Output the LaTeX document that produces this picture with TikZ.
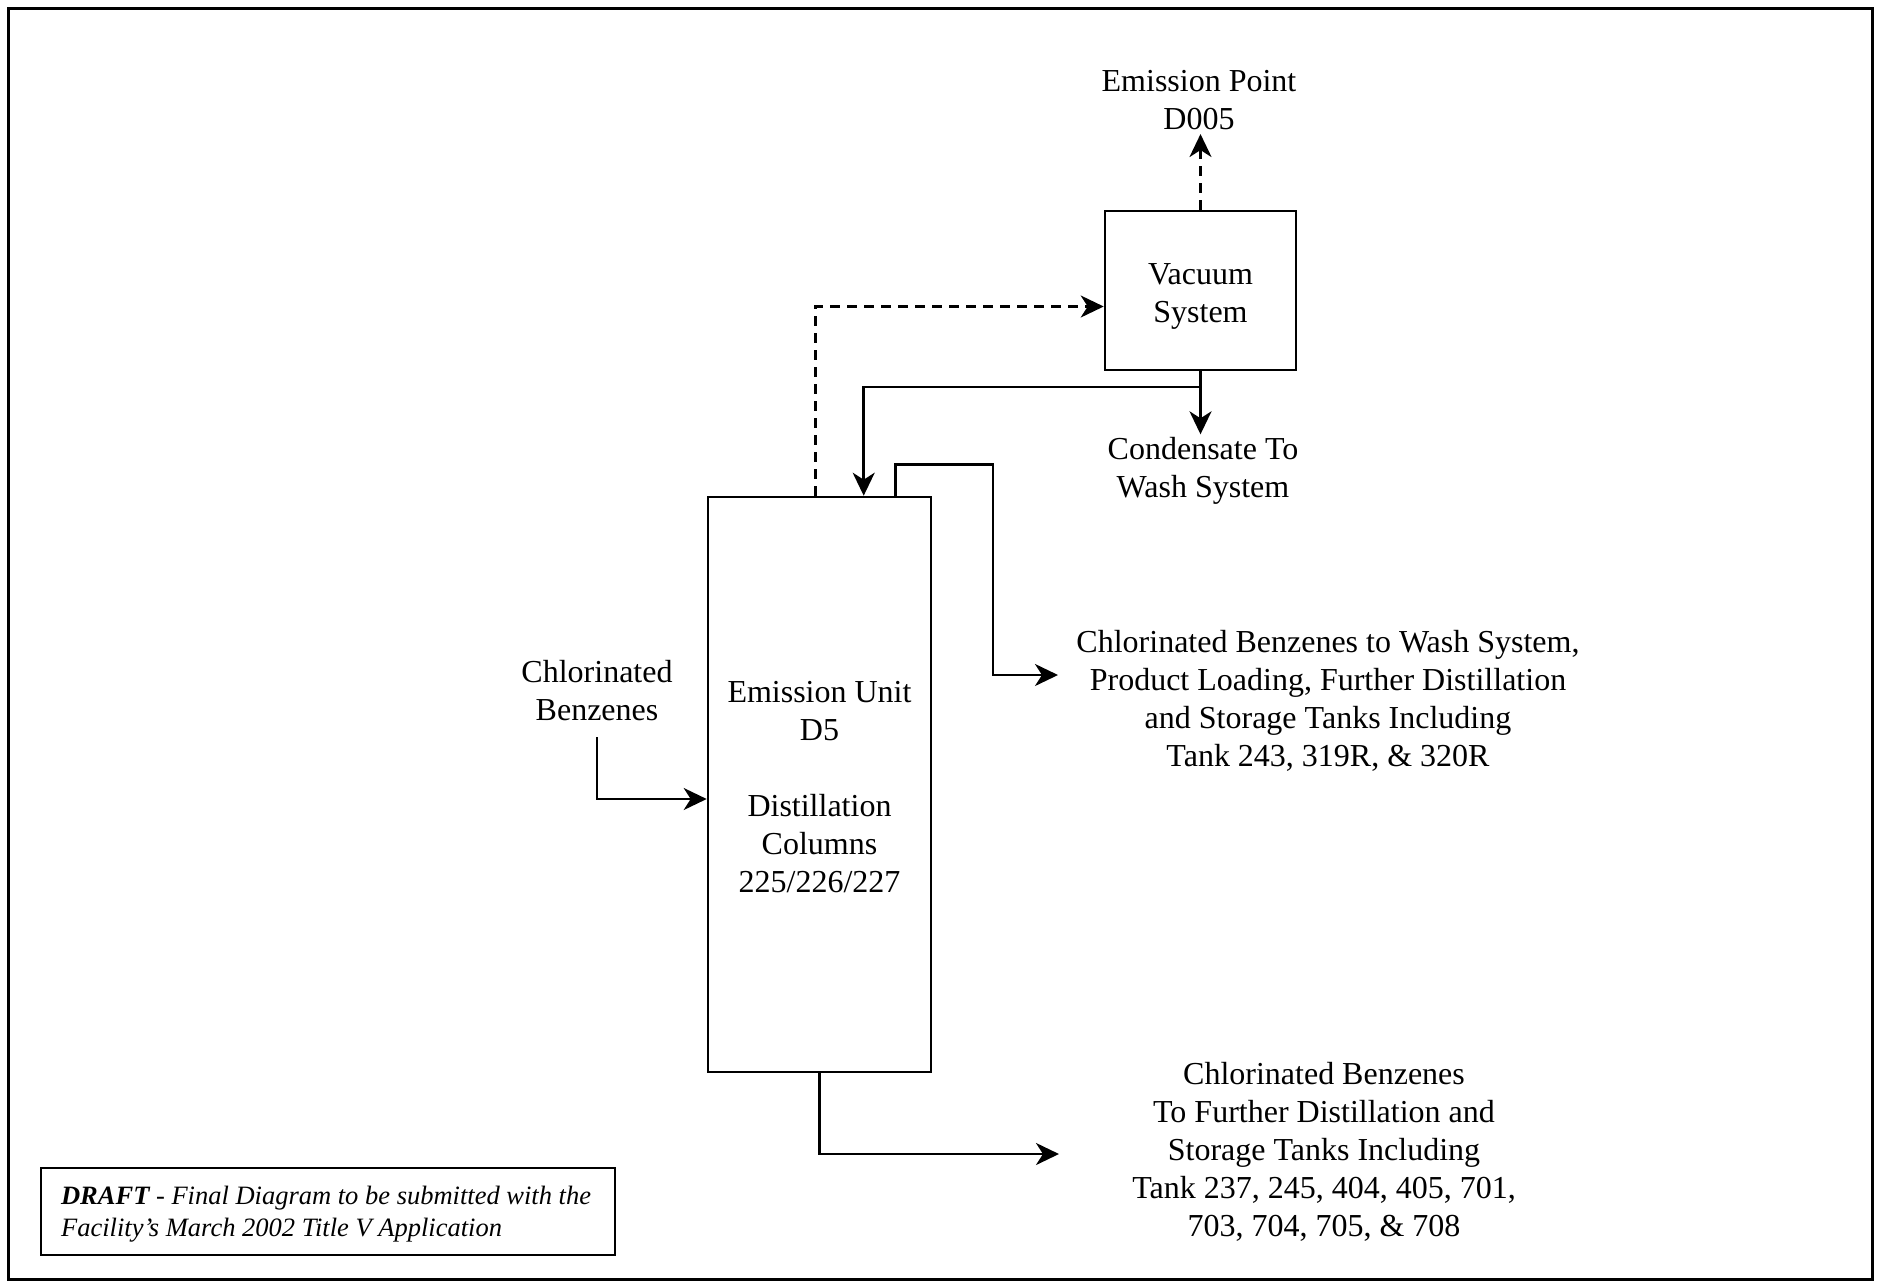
\documentclass[tikz,border=0pt]{standalone}
\usepackage{fontspec}
\setmainfont{Liberation Serif}
\usetikzlibrary{arrows.meta,calc}
\begin{document}
\begin{tikzpicture}[x=1pt,y=-1pt,
  line width=2.6pt,
  txt/.style={align=center,font=\fontsize{32}{38}\selectfont,inner sep=3pt},
  box/.style={draw,line width=2.6pt,inner sep=0pt,align=center,font=\fontsize{32}{38}\selectfont},
  flow/.style={line width=2.6pt,-{Stealth[length=23pt,width=22pt,inset=7pt]}},
  dflow/.style={flow,dash pattern=on 10pt off 7pt}]
\useasboundingbox (0,0) rectangle (1879,1286);
\draw[line width=3pt] (8,8) rectangle (1872,1279);
% main units
\node[box,minimum width=223pt,minimum height=575pt] (col) at (819.5,784.5) {};
\node[txt] (coltxt) at (819.5,787.5)
  {Emission Unit\\D5\\[38pt]Distillation\\Columns\\225/226/227};
\node[box,minimum width=191pt,minimum height=159pt] (vac) at (1200.5,290.5) {};
\node[txt] (vactxt) at (1200.5,296.5) {Vacuum\\System};
% labels
\node[txt] (ep) at (1199,100) {Emission Point\\D005};
\node[txt] (cond) at (1203,471) {Condensate To\\Wash System};
\node[txt] (inl) at (597,691) {Chlorinated\\Benzenes};
\node[txt] (out1) at (1328,701) {Chlorinated Benzenes to Wash System,\\Product Loading, Further Distillation\\and Storage Tanks Including\\Tank 243, 319R, \& 320R};
\node[txt] (out2) at (1324,1151.5) {Chlorinated Benzenes\\To Further Distillation and\\Storage Tanks Including\\Tank 237, 245, 404, 405, 701,\\703, 704, 705, \& 708};
% draft note
\node[draw,line width=2.4pt,minimum width=574pt,minimum height=87pt,inner sep=0pt] (draft) at (328,1211.5) {};
\node[anchor=west,align=left,inner sep=0pt,font=\fontsize{26.5}{32}\selectfont\itshape] (drafttxt) at ([xshift=20pt,yshift=-3pt]draft.west)
  {\textbf{DRAFT} - Final Diagram to be submitted with the\\Facility's March 2002 Title V Application};
% connector coordinates
\coordinate (dstart) at ([xshift=108.5pt]col.north west);
\coordinate (rstart) at ([xshift=189pt]col.north west);
\coordinate (o1) at (1058,675);
\coordinate (o2) at (1059,1154);
\coordinate (i1) at (597,737);
\coordinate (b1) at ([yshift=-15.5pt]vac.south);
% connectors
\draw[dflow] (dstart) |- ([yshift=-16pt]vac.west);
\draw[dflow] (vac.north) -- (vac.north |- ep.south);
\draw[flow] (vac.south) -- ++(0,63);
\draw[flow] (b1) -| ([xshift=157pt]col.north west);
\draw[flow] (rstart) -- ++(0,-31.5) -| ($(o1)+(-65,0)$) -- (o1);
\draw[flow] (col.south) |- (o2);
\draw[flow] (i1) |- ([yshift=-14.5pt]col.west);
\end{tikzpicture}
\end{document}
